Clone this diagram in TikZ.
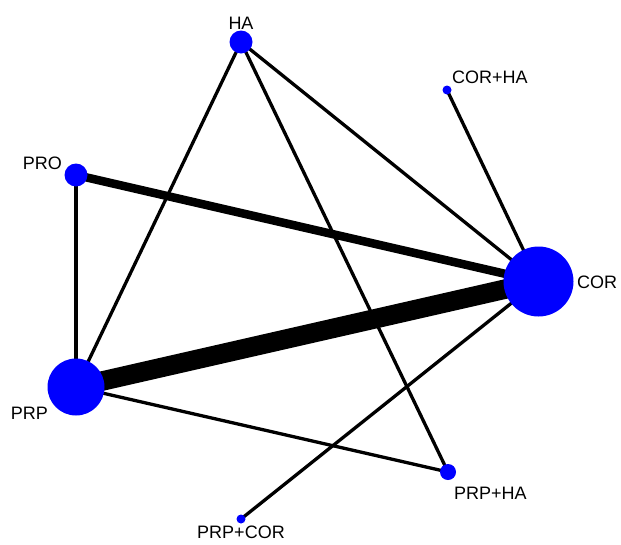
\documentclass[tikz,border=0pt]{standalone}
\usepackage{fontspec}
\setmainfont{Liberation Sans}
\usetikzlibrary{backgrounds}
\begin{document}
\begin{tikzpicture}[
        x=1pt, y=-1pt,
        trt/.style={circle, fill=blue, inner sep=0pt},
        lbl/.style={inner sep=0pt, font=\fontsize{18}{20}\selectfont},
        link/.style={line width=3.3pt, line cap=round}
    ]
        \useasboundingbox (0,0) rectangle (621,544);

        % Treatments
        \node[trt, minimum size=23pt] (ha) at (241,42) {};
        \node[trt, minimum size=9pt] (corha) at (447,90) {};
        \node[trt, minimum size=23pt] (pro) at (76,175) {};
        \node[trt, minimum size=70pt] (cor) at (538.5,281.5) {};
        \node[trt, minimum size=57pt] (prp) at (76,387) {};
        \node[trt, minimum size=16pt] (prpha) at (448,472) {};
        \node[trt, minimum size=9pt] (prpcor) at (241,519) {};

        % Labels
        \node[lbl] (lha) at (241,23) {HA};
        \node[lbl, anchor=west] (lcorha) at (452,77) {COR+HA};
        \node[lbl, anchor=east] (lpro) at (62,163) {PRO};
        \node[lbl, anchor=west] (lcor) at (577,282) {COR};
        \node[lbl, anchor=east] (lprp) at (48,413) {PRP};
        \node[lbl, anchor=west] (lprpha) at (454,493) {PRP+HA};
        \node[lbl, anchor=south] (lprpcor) at (241,539) {PRP+COR};

        % Comparisons
        \begin{scope}[on background layer]
            \draw[link] (ha.center) -- (prp.center);
            \draw[link] (ha.center) -- (cor.center);
            \draw[link] (ha.center) -- (prpha.center);
            \draw[link] (corha.center) -- (cor.center);
            \draw[link] (pro.center) -- (prp.center);
            \draw[link, line width=8.5pt] (pro.center) -- (cor.center);
            \draw[link, line width=19.5pt, line cap=butt] (prp.center) -- (cor.center);
            \draw[link] (prp.center) -- (prpha.center);
            \draw[link] (prpcor.center) -- (cor.center);
        \end{scope}
    \end{tikzpicture}
\end{document}
